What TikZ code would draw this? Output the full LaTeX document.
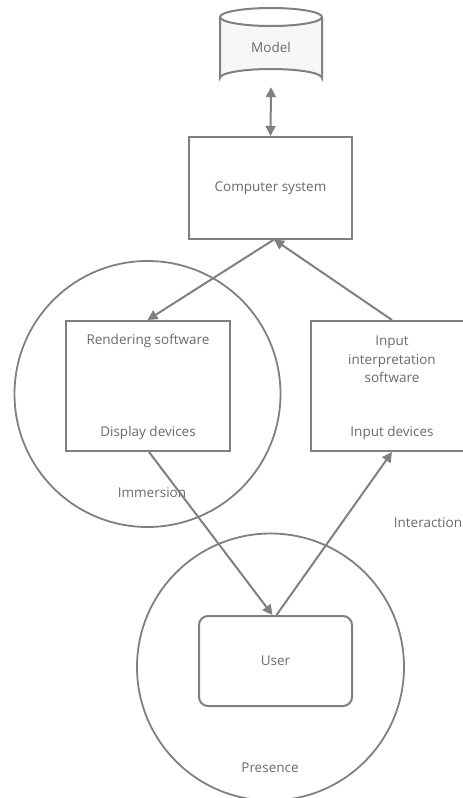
\documentclass[tikz,border=0pt]{standalone}
\usepackage{fontspec}
\setmainfont{Open Sans}
\usetikzlibrary{arrows.meta}
\definecolor{ln}{HTML}{808080}
\definecolor{tx}{HTML}{6A6A6A}
\definecolor{cylfill}{HTML}{F7F7F7}
\begin{document}
\begin{tikzpicture}[x=1pt,y=-1pt,
  every node/.style={font=\fontsize{13.5}{16}\selectfont, text=tx},
  box/.style={draw=ln, line width=2pt, fill=white, inner sep=0pt},
  ring/.style={draw=ln, line width=1.8pt, circle, inner sep=0pt},
  conn/.style={draw=ln, line width=2pt, -{Triangle[length=10pt,width=10pt]}},
  lbl/.style={inner sep=0pt}]
\useasboundingbox (0,0) rectangle (463,798);
\begin{scope}
\clip (0,0) rectangle (463,798);
% circles
\node[ring, minimum size=266pt] (imm) at (147.5,394) {};
\node[ring, minimum size=267pt] (pres) at (270.5,667) {};
% model cylinder
\fill[cylfill] (220,17) -- (220,78) arc[start angle=180,end angle=360,x radius=51,y radius=9] -- (322,17) arc[start angle=0,end angle=180,x radius=51,y radius=9] -- cycle;
\draw[ln, line width=2pt] (220,17) -- (220,78) arc[start angle=180,end angle=360,x radius=51,y radius=9] -- (322,17);
\draw[ln, line width=2pt] (271,17) ellipse[x radius=51,y radius=9];
\node[lbl, minimum width=102pt, minimum height=79pt] (model) at (271,47.5) {Model};
% boxes
\node[box, minimum width=163pt, minimum height=102pt] (cs) at (270.5,188) {Computer system};
\node[box, minimum width=164pt, minimum height=130pt] (rend) at (148,386) {};
\node[box, minimum width=164pt, minimum height=130pt] (inp) at (393,386) {};
\node[box, rounded corners=9pt, minimum width=153pt, minimum height=90pt] (user) at (275.5,661) {User};
% texts in boxes
\node[lbl] at (148,341) {Rendering software};
\node[lbl] at (148,433) {Display devices};
\node[lbl, align=center, font=\fontsize{13.5}{18.5}\selectfont] at (392,359.5) {Input\\interpretation\\software};
\node[lbl] at (392,433) {Input devices};
% labels
\node[lbl] at (152,493) {Immersion};
\node[lbl] at (428,523) {Interaction};
\node[lbl] at (270,768) {Presence};
% connectors
\draw[conn, {Triangle[length=10pt,width=10pt]}-{Triangle[length=10pt,width=10pt]}] (model.south) -- (cs.north);
\coordinate (csb) at (274,239.5);
\draw[conn] (csb) -- ([xshift=-0.5pt]rend.north);
\draw[conn] ([xshift=-1pt]inp.north) -- (csb);
\draw[conn] ([xshift=1pt]rend.south) -- ([xshift=-3pt]user.north);
\draw[conn] ([xshift=1pt]user.north) -- ([xshift=-1pt]inp.south);
\end{scope}
\end{tikzpicture}
\end{document}
